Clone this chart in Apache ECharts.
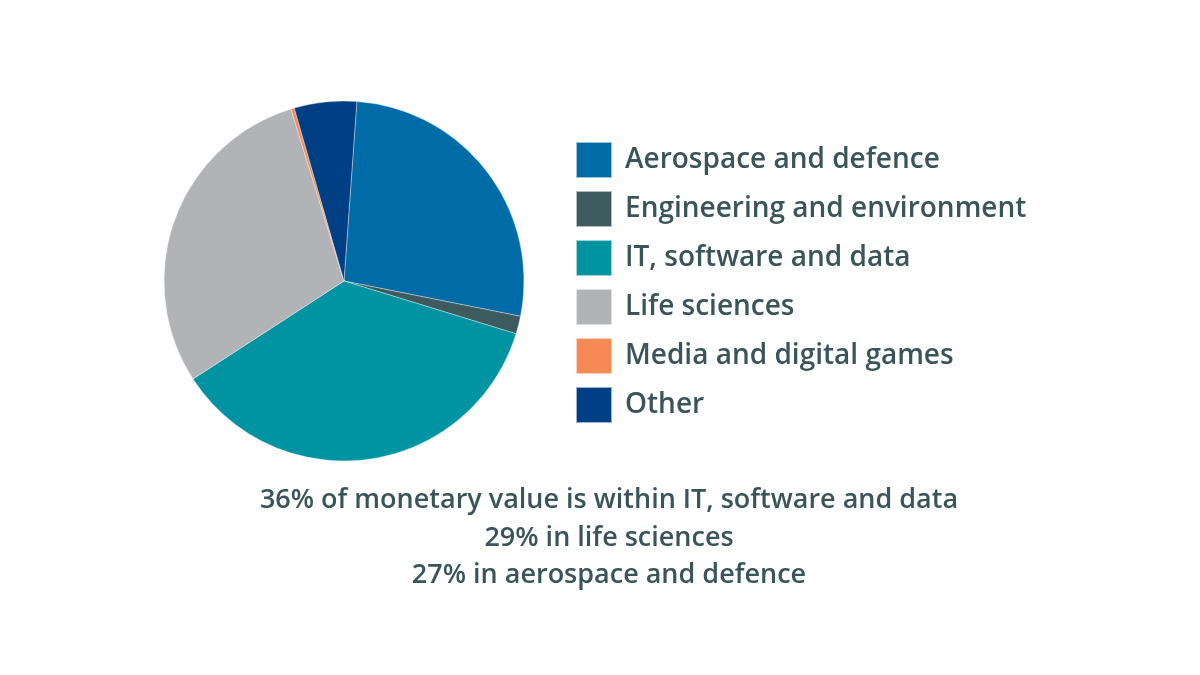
<!DOCTYPE html>
<html>
<head>
<meta charset="utf-8">
<script src="https://cdn.jsdelivr.net/npm/echarts@6/dist/echarts.min.js"></script>
<style>
html,body{margin:0;padding:0;background:#fff;}
#c{width:1200px;height:675px;}
</style>
</head>
<body>
<div id="c"></div>
<script>
const categories = ["Aerospace and defence","Engineering and environment","IT, software and data","Life sciences","Media and digital games","Other"];
const shares = [27.0, 1.6, 36.1, 29.4, 0.3, 5.6];
const colors = ["#006ca7","#3d5b5f","#0094a2","#b2b3b7","#f58a56","#003f84"];
const captionLines = ["36% of monetary value is within IT, software and data","29% in life sciences","27% in aerospace and defence"];

const textColor = "#3a5559";
const fontFamily = "'Open Sans', Lato, sans-serif";

const chart = echarts.init(document.getElementById('c'));
chart.setOption({
  backgroundColor: '#ffffff',
  animation: false,
  color: colors,
  title: {
    text: captionLines.join('\n'),
    left: 604,
    textAlign: 'center',
    top: 477,
    textStyle: {
      color: textColor, fontSize: 27, fontWeight: 600, fontFamily: fontFamily, lineHeight: 37.5
    }
  },
  legend: {
    orient: 'vertical',
    left: 570,
    top: 136,
    itemWidth: 36,
    itemHeight: 36,
    itemGap: 11,
    icon: 'rect',
    data: categories,
    textStyle: {
      color: textColor, fontSize: 28, fontWeight: 600, fontFamily: fontFamily,
      lineHeight: 36,
      padding: [0, 0, 0, 8]
    }
  },
  series: [{
    type: 'pie',
    center: [344, 281],
    radius: [0, 180],
    startAngle: 85.9,
    clockwise: true,
    label: { show: false },
    labelLine: { show: false },
    itemStyle: { borderColor: 'rgba(255,255,255,0.6)', borderWidth: 0.6 },
    emphasis: { disabled: true },
    data: categories.map((n, i) => ({ name: n, value: shares[i] }))
  }]
});
</script>
</body>
</html>
